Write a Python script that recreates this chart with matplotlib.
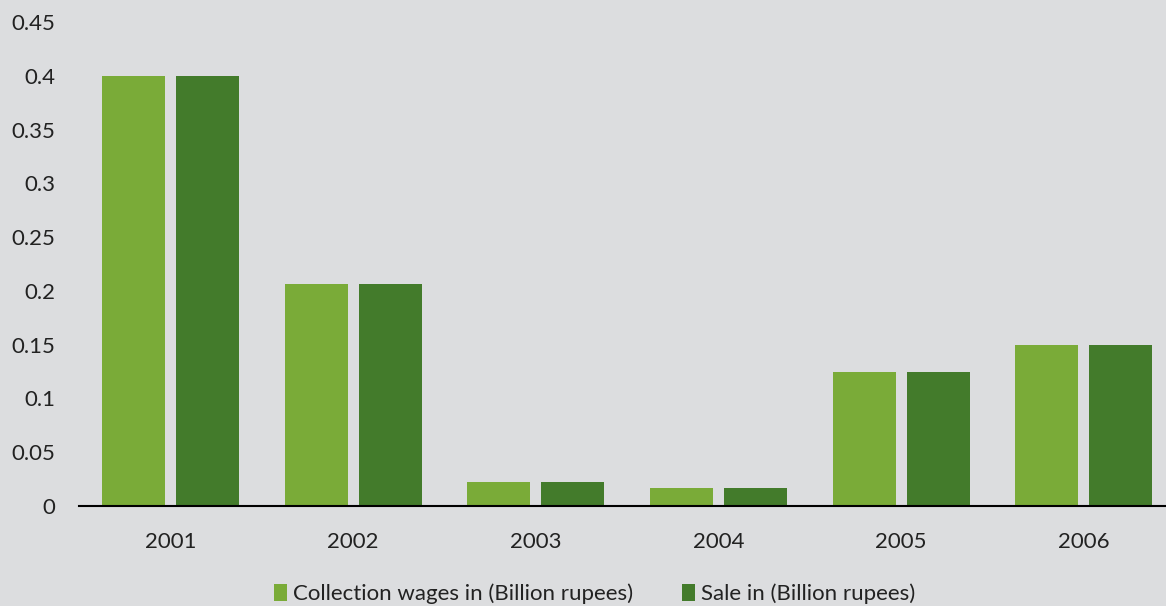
import numpy as np
import matplotlib
matplotlib.use("Agg")
import matplotlib.pyplot as plt

years = ["2001", "2002", "2003", "2004", "2005", "2006"]
collection = [0.400, 0.206, 0.022, 0.017, 0.125, 0.150]
sale = [0.400, 0.206, 0.022, 0.017, 0.125, 0.150]
labels = ["Collection wages in (Billion rupees)", "Sale in (Billion rupees)"]
yticks = [0, 0.05, 0.1, 0.15, 0.2, 0.25, 0.3, 0.35, 0.4, 0.45]

BG = "#dcdddf"
LIGHT, DARK = "#7aab38", "#437b2b"

plt.rcParams["font.family"] = ["Lato", "DejaVu Sans"]

fig = plt.figure(figsize=(11.66, 6.06), dpi=100, facecolor=BG)
ax = fig.add_axes([0.0678, 0.165, 0.94, 0.7987], facecolor=BG)

x = np.arange(len(years))
w = 0.345
ax.bar(x - 0.2025, collection, w, color=LIGHT, label=labels[0])
ax.bar(x + 0.2025, sale, w, color=DARK, label=labels[1])

ax.set_xlim(-0.5, len(years) - 0.5)
ax.set_ylim(0, 0.45)
ax.set_yticks(yticks)
ax.set_yticklabels([f"{t:g}" for t in yticks])
ax.set_xticks(x)
ax.set_xticklabels(years)
ax.tick_params(axis="both", length=0, labelsize=16, colors="#222222")
ax.tick_params(axis="y", pad=17)
ax.tick_params(axis="x", pad=19)

for s in ("top", "right", "left"):
    ax.spines[s].set_visible(False)
ax.spines["bottom"].set_color("black")
ax.spines["bottom"].set_linewidth(1.5)

fig.legend(loc="lower center", bbox_to_anchor=(0.51, -0.03), ncol=2,
           frameon=False, fontsize=16, handlelength=0.6, handleheight=0.8,
           handletextpad=0.25, columnspacing=2.2, labelcolor="#222222")

fig.savefig("out.png", dpi=100, facecolor=BG)
